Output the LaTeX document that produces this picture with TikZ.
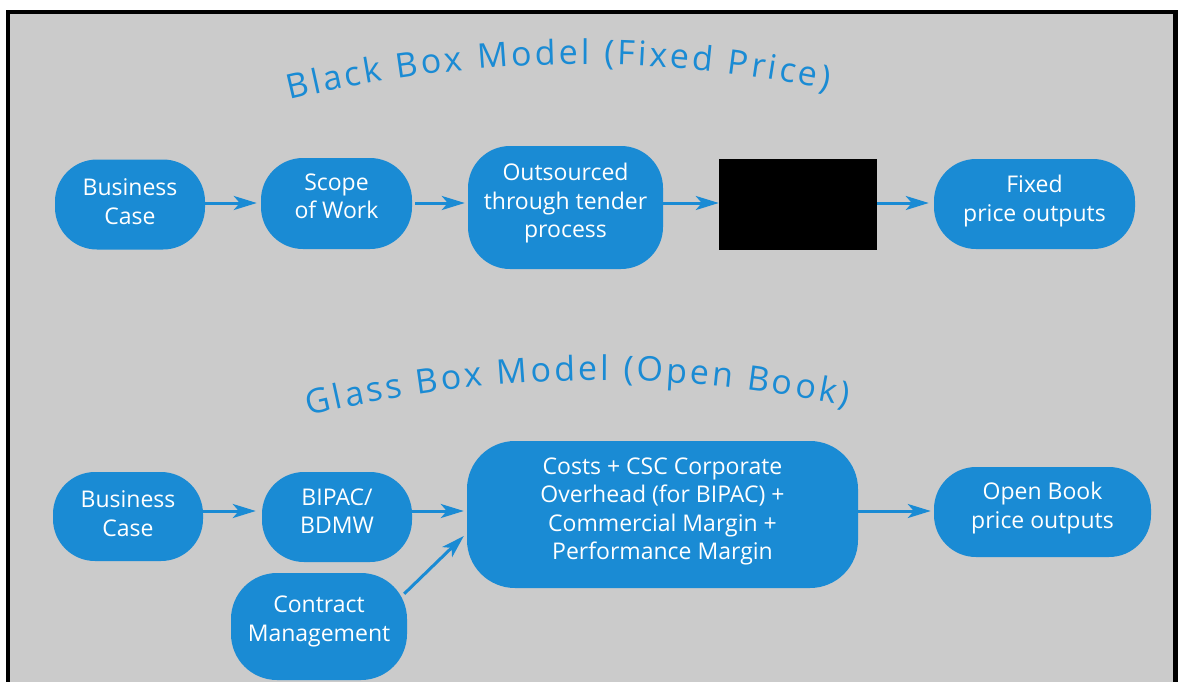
\documentclass[tikz,border=0pt]{standalone}
\usepackage{fontspec}
\setmainfont{Open Sans}
\usetikzlibrary{arrows.meta,decorations.text,calc}
\definecolor{flowblue}{HTML}{1A8BD4}
\definecolor{panelgray}{HTML}{CBCBCB}
\newcommand\headingfont{\fontsize{34}{34}\selectfont\color{flowblue}}
\begin{document}
\begin{tikzpicture}[x=1pt,y=-1pt,
  box/.style={fill=flowblue, rounded corners=42pt, inner sep=0pt},
  boxtext/.style={text=white, inner sep=0pt, align=center,
    font=\fontsize{23}{28.5}\selectfont},
  hidden/.style={fill=black, inner sep=0pt},
  arr/.style={draw=flowblue, line width=3pt,
    -{Stealth[length=23pt,width=14pt,inset=6pt]}},
  heading/.style={decorate, decoration={text along path,
    text align=fit to path, text={|\headingfont|#1}}},
]
\useasboundingbox (0,0) rectangle (1181,681);
\fill[white] (0,0) rectangle (1181,681);
\begin{scope}
  \clip (0,0) rectangle (1181,681);
  \draw[line width=4.5pt, fill=panelgray] (8,12) rectangle (1175.5,700);
\end{scope}

% curved headings
\coordinate (h1s) at (290,100);
\coordinate (h1p) at (470,56);
\coordinate (h1q) at (648,53);
\coordinate (h1e) at (828,90);
\path[heading={Black Box Model (Fixed Price)}] (h1s) .. controls (h1p) and (h1q) .. (h1e);

\coordinate (h2s) at (309,416);
\coordinate (h2p) at (489,372);
\coordinate (h2q) at (667,369);
\coordinate (h2e) at (847,406);
\path[heading={Glass Box Model (Open Book)}] (h2s) .. controls (h2p) and (h2q) .. (h2e);

% fixed price flow
\node[box, minimum width=150pt, minimum height=90pt] (bc1) at (130,204.5) {};
\node[boxtext] (bc1t) at ([yshift=3pt]bc1.center) {Business\\Case};
\node[box, minimum width=151pt, minimum height=91pt] (sow) at (336.5,203.5) {};
\node[boxtext] (sowt) at ([yshift=7pt]sow.center) {Scope\\of Work};
\node[box, minimum width=195pt, minimum height=123pt] (out) at (565.5,207.5) {};
\node[boxtext] (outt) at ([yshift=4pt]out.center) {Outsourced\\through tender\\process};
\node[hidden, minimum width=158pt, minimum height=91pt] (blk) at (798,204.5) {};
\node[box, minimum width=201pt, minimum height=90pt] (fix) at (1034.5,204) {};
\node[boxtext] (fixt) at ([yshift=3pt]fix.center) {Fixed\\price outputs};

\coordinate (row1) at (0,203);
\draw[arr, shorten >=4pt] (bc1.east |- row1) -- (sow.west |- row1);
\draw[arr, shorten <=3pt, shorten >=3pt] (sow.east |- row1) -- (out.west |- row1);
\draw[arr] (out.east |- row1) -- (blk.west |- row1);
\draw[arr, shorten >=5pt] (blk.east |- row1) -- (fix.west |- row1);

% open book flow
\node[box, minimum width=150pt, minimum height=89pt] (bc2) at (128,516.5) {};
\node[boxtext] (bc2t) at ([yshift=3pt]bc2.center) {Business\\Case};
\node[box, minimum width=150pt, minimum height=90pt] (bip) at (337,517) {};
\node[boxtext] (bipt) at ([yshift=6pt]bip.center) {BIPAC/\\BDMW};
\node[box, rounded corners=48pt, minimum width=391pt, minimum height=147pt] (big) at (662.5,514.5) {};
\node[boxtext] (bigt) at ([yshift=3pt]big.center)
  {Costs + CSC Corporate\\Overhead (for BIPAC) +\\Commercial Margin +\\Performance Margin};
\node[box, minimum width=217pt, minimum height=90pt] (ob) at (1042.5,512) {};
\node[boxtext] (obt) at ([yshift=4pt]ob.center) {Open Book\\price outputs};
\node[box, rounded corners=46pt, minimum width=176pt, minimum height=107pt] (cm) at (319,626.5) {};
\node[boxtext] (cmt) at ([yshift=5pt]cm.center) {Contract\\Management};

\coordinate (row2) at (0,511);
\draw[arr, shorten >=6pt] (bc2.east |- row2) -- (bip.west |- row2);
\draw[arr, shorten >=3pt] (bip.east |- row2) -- (big.west |- row2);
\draw[arr, shorten >=3pt] (big.east |- row2) -- (ob.west |- row2);
\draw[arr] ([xshift=-3pt,yshift=-21pt]cm.north east) -- ([xshift=-3pt,yshift=-21.5pt]big.west);
\end{tikzpicture}
\end{document}
